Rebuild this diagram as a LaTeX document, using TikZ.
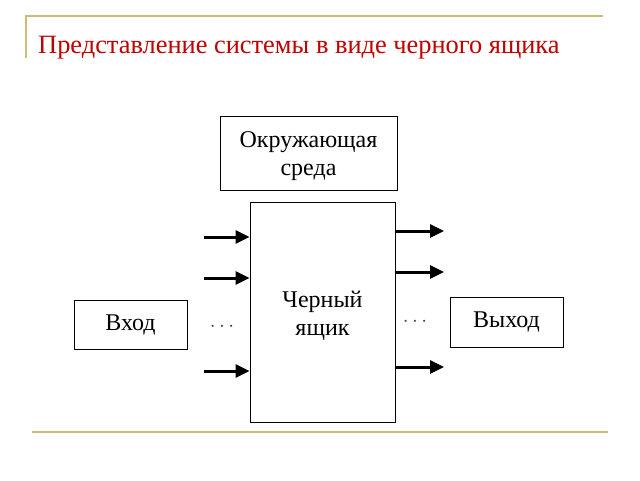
\documentclass[tikz,border=0pt]{standalone}
\usepackage{fontspec}
\setmainfont{Liberation Serif}
\usetikzlibrary{arrows.meta}
\definecolor{gold}{RGB}{204,188,122}
\definecolor{titlered}{RGB}{192,0,0}
\tikzset{
  box/.style={draw=black, line width=1pt, fill=white, align=center, font=\fontsize{24}{27.5}\selectfont, inner sep=0pt},
  flow/.style={line width=3pt, -{Triangle[length=14pt,width=13pt]}},
  rule/.style={draw=gold, line width=2pt},
  dots/.style={font=\fontsize{20}{20}\selectfont, text=black!75}
}
\begin{document}
\begin{tikzpicture}[x=1pt,y=-1pt]
\useasboundingbox (0,0) rectangle (640,480);
% gold rules
\coordinate (t1) at (26,16);
\coordinate (t2) at (603,16);
\coordinate (t3) at (26,58);
\coordinate (b1) at (32,432);
\coordinate (b2) at (608,432);
\draw[rule] (t3) -- (t1) -- (t2);
\draw[rule] (b1) -- (b2);
% title
\node[anchor=base west, text=titlered, font=\fontsize{26.4}{28}\selectfont, inner sep=0pt] (title) at (38,53) {Представление системы в виде черного ящика};
% boxes
\node[box, minimum width=177pt, minimum height=74pt] (env) at (308.5,153) {};
\node[box, minimum width=145pt, minimum height=220pt] (bb) at (322.5,312) {};
\node[box, align=center, draw=none, fill=none] (envtext) at (308.5,156) {Окружающая\\среда};
\node[box, align=center, draw=none, fill=none] (bbtext) at (322.5,316) {Черный\\ящик};
\node[box, minimum width=113pt, minimum height=49pt] (in) at (130.5,324.5) {Вход};
\node[box, minimum width=113pt, minimum height=50pt] (out) at (506.5,322) {Выход};
% input arrows
\coordinate (i1) at (204,237);
\coordinate (i2) at (204,278);
\coordinate (i3) at (204,371);
\draw[flow] (i1) -- (i1 -| bb.west);
\draw[flow] (i2) -- (i2 -| bb.west);
\draw[flow] (i3) -- (i3 -| bb.west);
% output arrows
\coordinate (o1) at (444,231);
\coordinate (o2) at (444,272);
\coordinate (o3) at (444,367);
\draw[flow] (o1 -| bb.east) -- (o1);
\draw[flow] (o2 -| bb.east) -- (o2);
\draw[flow] (o3 -| bb.east) -- (o3);
% dots
\node[dots] (dl) at (222,327) {$\cdots$};
\node[dots] (dr) at (415,322) {$\cdots$};
\end{tikzpicture}
\end{document}
